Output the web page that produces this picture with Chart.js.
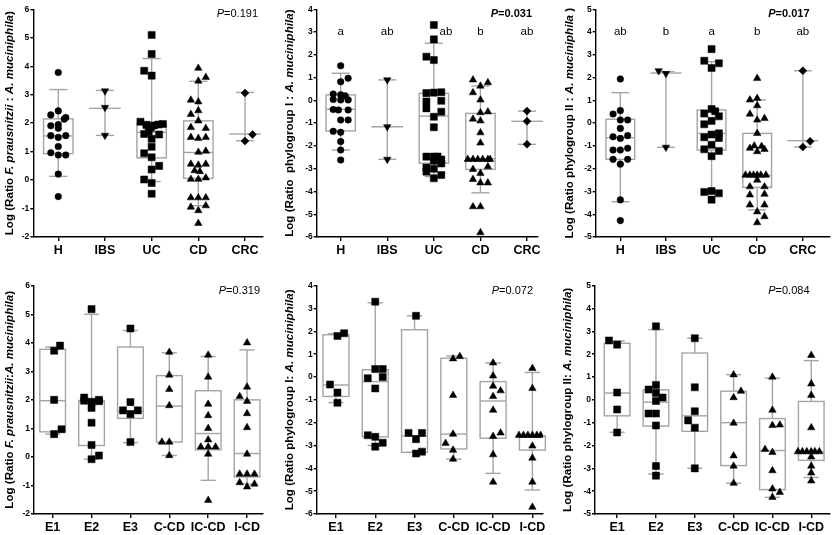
<!DOCTYPE html>
<html>
<head>
<meta charset="utf-8">
<script src="https://cdn.jsdelivr.net/npm/chart.js@4.4.0/dist/chart.umd.min.js"></script>
<style>
html, body { margin: 0; padding: 0; background: #fff; }
#wrap { position: relative; width: 835px; height: 535px; }
#wrap canvas { position: absolute; }
</style>
</head>
<body>
<div id="wrap">
  <canvas id="c1" width="278" height="265" style="left:0;top:0"></canvas>
  <canvas id="c2" width="278" height="265" style="left:278px;top:0"></canvas>
  <canvas id="c3" width="279" height="265" style="left:556px;top:0"></canvas>
  <canvas id="c4" width="278" height="270" style="left:0;top:265px"></canvas>
  <canvas id="c5" width="278" height="270" style="left:278px;top:265px"></canvas>
  <canvas id="c6" width="279" height="270" style="left:556px;top:265px"></canvas>
</div>
<script>
const FONT = 'Arial, "Liberation Sans", sans-serif';

const diseaseGroups = ['H', 'IBS', 'UC', 'CD', 'CRC'];
const cdGroups = ['E1', 'E2', 'E3', 'C-CD', 'IC-CD', 'I-CD'];
const diseaseMarkers = ['circle', 'triangleDown', 'rect', 'triangle', 'rectRot'];
const cdMarkers = ['rect', 'rect', 'rect', 'triangle', 'triangle', 'triangle'];

const pValues = ['0.191', '0.031', '0.017', '0.319', '0.072', '0.084'];
const phyloILetters = ['a', 'ab', 'ab', 'b', 'ab'];
const phyloIILetters = ['ab', 'b', 'a', 'b', 'ab'];

// y-axis titles: [text, italic]
const titleFpDisease = [['Log (Ratio ', false], ['F. prausnitzii', true], [' : ', false], ['A. muciniphila', true], [')', false]];
const titlePhyloIDisease = [['Log (Ratio  phylogroup I : ', false], ['A. muciniphila', true], [')', false]];
const titlePhyloIIDisease = [['Log (Ratio phylogroup II : ', false], ['A. muciniphila', true], [' )', false]];
const titleFpCd = [['Log (Ratio ', false], ['F. prausnitzii', true], [':', false], ['A. muciniphila', true], [')', false]];
const titlePhyloICd = [['Log (Ratio phylogroup I: ', false], ['A. muciniphila', true], [')', false]];
const titlePhyloIICd = [['Log (Ratio phylogroup II: ', false], ['A. muciniphila', true], [')', false]];

// box stats per group: [lower whisker, Q1, median, Q3, upper whisker]; null Q1/Q3 = no box drawn
const fpDiseaseBoxes = [
  [0.13, 0.93, 1.55, 2.15, 3.18], [1.57, null, 2.52, null, 3.15], [-0.05, 0.78, 1.68, 1.98, 4.27],
  [-0.9, 0.06, 0.97, 2.08, 3.47], [1.38, null, 1.62, null, 3.08]
];
const phyloIDiseaseBoxes = [
  [-2.18, -1.34, -0.39, 0.24, 1.19], [-2.59, null, -1.16, null, 0.9], [-3.35, -2.76, -0.69, 0.31, 2.51],
  [-4.06, -3.03, -2.56, -0.57, 0.63], [-1.93, null, -0.92, null, -0.47]
];
const phyloIIDiseaseBoxes = [
  [-3.45, -1.59, -0.64, 0.17, 1.34], [-1.06, null, 2.2, null, 2.26], [-3.0, -1.18, -0.45, 0.58, 2.7],
  [-3.81, -2.82, -2.28, -0.45, 1.02], [-1.05, null, -0.77, null, 2.3]
];
const fpCdBoxes = [
  [0.8, 0.88, 1.97, 3.77, 3.85], [-0.08, 0.4, 1.92, 1.98, 5.0], [0.5, 1.35, 1.6, 3.85, 4.43],
  [0.05, 0.52, 1.78, 2.85, 3.65], [-0.82, 0.25, 0.82, 2.32, 3.52], [-0.95, -0.7, 0.12, 2.0, 3.75]
];
const phyloICdBoxes = [
  [-1.12, -0.85, -0.35, 1.85, 1.9], [-3.0, -2.62, -0.2, 0.32, 3.25], [-3.3, -3.3, -2.58, 2.07, 2.68],
  [-3.6, -3.15, -2.5, 0.82, 0.92], [-4.22, -2.68, -1.05, -0.2, 0.62], [-4.95, -3.2, -2.6, -2.58, 0.2]
];
const phyloIICdBoxes = [
  [-1.42, -0.7, 0.3, 2.48, 2.58], [-3.25, -1.15, -0.1, 0.44, 3.08], [-3.0, -1.38, -0.7, 2.05, 2.7],
  [-3.65, -2.88, -1.0, 0.38, 1.1], [-4.27, -3.93, -2.22, -0.82, 0.95], [-3.4, -2.65, -2.28, -0.07, 1.72]
];

// individual samples per group: [jitter slot, value]
const fpDiseasePoints = [
  [[0, 3.78], [-1, 2.29], [0, 2.43], [1, 2.2], [0.8, 2.14], [-1, 1.91], [0, 1.95], [0, 1.82], [-1, 1.56],
   [0, 1.5], [1, 1.56], [0, 1.18], [-1, 0.96], [0, 0.88], [1, 0.88], [0, 0.21], [0, -0.58]],
  [[0, 3.13], [0, 2.55], [0, 1.57]],
  [[0, 5.1], [0, 4.43], [-1, 3.84], [0, 3.67], [-1.5, 2.05], [-0.7, 1.94], [0.3, 1.92], [0.9, 1.95], [1.5, 1.97],
   [-0.1, 1.84], [-1, 1.62], [-0.4, 1.7], [1, 1.6], [0, 1.45], [0, 1.17], [-1, 0.94], [0, 0.8], [1, 0.5],
   [0, 0.37], [-1, 0.02], [0, -0.1], [0, -0.48]],
  [[0, 3.93], [1, 3.61], [0, 3.48], [-1, 2.81], [0, 2.75], [0, 2.44], [-1, 2.31], [0, 2.08], [-1, 1.85], [1, 1.82],
   [-1, 1.5], [0, 1.47], [1, 1.5], [0, 0.98], [1, 1.02], [-1, 0.56], [0, 0.53], [1, 0.56], [-0.5, 0.33], [0.2, 0.3],
   [-1, 0.03], [0, 0.03], [1, 0.08], [-1, -0.62], [0, -0.62], [1, -0.62], [-1, -0.95], [0, -1.07], [1, -0.9], [0, -1.52]],
  [[0, 3.06], [1, 1.6], [0, 1.37]]
];
const phyloIDiseasePoints = [
  [[0, 1.52], [1, 0.97], [0, 0.82], [-1, 0.28], [0, 0.25], [0.6, 0.2], [-1, 0.04], [0, 0.02], [1, 0.02], [-1, -0.4],
   [-0.3, -0.42], [1, -0.42], [0, -0.86], [1, -0.86], [-1, -1.36], [0, -1.4], [0, -1.81], [0, -2.18], [0, -2.62]],
  [[0, 0.9], [0, -1.16], [0, -2.59]],
  [[0, 3.31], [0, 2.68], [-1, 1.92], [0, 1.77], [-1, 0.32], [0, 0.34], [1, 0.36], [-1, -0.05], [1, -0.02], [-1, -0.35],
   [1, -0.5], [0, -0.72], [0, -1.18], [-1, -2.47], [0, -2.47], [0.5, -2.47], [1, -2.6], [0, -2.65], [1, -2.77],
   [-1, -2.95], [0, -3.0], [-1, -3.13], [1, -3.28], [0, -3.42]],
  [[-1, 0.9], [1, 0.78], [0, 0.63], [-1, 0.34], [0, 0.02], [0, -0.54], [1, -0.5], [-1, -0.82], [0, -0.9], [0, -1.42],
   [0, -1.87], [-1.7, -2.59], [-1, -2.59], [-0.35, -2.59], [0.3, -2.59], [1, -2.59], [1.3, -2.59], [-1, -3.03],
   [1, -2.91], [0, -3.2], [-1, -3.47], [0, -3.62], [1, -3.62], [-1, -4.67], [0, -4.67], [0, -5.81]],
  [[0, -0.47], [0, -0.92], [0, -1.93]]
];
const phyloIIDiseasePoints = [
  [[0, 1.94], [0, 0.55], [-1, 0.4], [0, 0.14], [1, 0.14], [0, -0.23], [-1, -0.6], [0, -0.67], [1, -0.55], [-1, -1.18],
   [0, -1.18], [1, -1.1], [-1, -1.59], [1, -1.59], [0, -1.8], [0, -3.37], [0, -4.28]],
  [[-1, 2.3], [0, 2.18], [0, -1.06]],
  [[0, 3.25], [-1, 2.74], [1, 2.63], [0, 2.42], [0, 0.62], [0.5, 0.52], [-1, 0.42], [1, 0.3], [0, 0.1], [-1, -0.05],
   [1, -0.45], [0, -0.5], [-1, -0.62], [1, -0.65], [0, -0.95], [-1, -1.15], [1, -1.22], [0, -1.45], [-1, -3.02],
   [0, -2.98], [1, -3.08], [0, -3.36]],
  [[0, 1.97], [-1, 1.02], [0, 1.09], [0, 0.77], [-1, 0.4], [1, 0.21], [0, 0.14], [0, -0.45], [-1, -1.1], [-0.4, -1.0],
   [0.6, -1.02], [0, -1.25], [1, -1.15], [-1.6, -2.28], [-1, -2.28], [-0.5, -2.28], [0, -2.28], [0.5, -2.28],
   [1.2, -2.28], [0, -2.5], [-1, -2.79], [1, -2.79], [-1, -3.15], [1, -3.12], [-1, -3.59], [1, -3.59], [0, -3.89],
   [1, -4.1], [0, -4.37]],
  [[0, 2.3], [1, -0.8], [0, -1.05]]
];
const fpCdPoints = [
  [[1, 3.9], [0.2, 3.72], [0.2, 2.0], [1.2, 0.97], [0.2, 0.8]],
  [[0, 5.18], [-1, 2.08], [-1, 1.97], [0, 1.93], [1, 2.0], [1, 1.95], [0, 1.72], [0, 1.2], [0, 0.42], [1, 0.05], [0, -0.08]],
  [[0, 4.5], [0, 1.92], [-1, 1.63], [0, 1.5], [1, 1.63], [0, 0.52]],
  [[0, 3.67], [0, 2.87], [0, 2.37], [0, 1.8], [-1, 0.52], [0, 0.52], [0, 0.05]],
  [[0, 3.57], [0, 2.8], [0, 1.85], [0, 1.45], [0, 1.0], [0, 0.6], [-1, 0.35], [0, 0.35], [1, 0.35], [0, 0.1], [0, -1.52]],
  [[0, 4.0], [0, 2.45], [-1, 2.12], [0, 1.95], [0, 1.52], [0, 1.03], [0, 0.1], [-1, -0.6], [0, -0.6], [1, -0.6],
   [-1, -0.9], [0, -1.05], [1, -0.95]]
];
const phyloICdPoints = [
  [[1.1, 1.92], [0.2, 1.8], [-0.8, -0.33], [0.2, -0.68], [0.2, -1.13]],
  [[0, 3.3], [0, 0.35], [1, 0.35], [1, 0.0], [-1, -0.05], [0, -0.5], [-1, -2.55], [0, -2.62], [1, -2.88], [0, -3.05]],
  [[0.2, 2.68], [-0.8, -2.45], [1, -2.45], [0.2, -2.72], [1, -3.27], [0.2, -3.35]],
  [[0.8, 0.9], [-0.1, 0.8], [-0.1, -0.8], [-0.1, -2.5], [-1.1, -2.9], [-0.1, -3.2], [-0.1, -3.6]],
  [[0, 0.62], [0, 0.05], [0, -0.4], [1, -0.6], [0, -0.85], [0, -1.45], [1, -2.45], [0, -2.6], [0, -3.4], [0, -4.6]],
  [[0, 0.38], [0, -0.5], [-1.8, -2.55], [-1.2, -2.55], [-0.6, -2.55], [0, -2.55], [0.6, -2.55], [1.1, -2.55],
   [0, -3.02], [0, -3.55], [0, -4.6], [0, -5.7]]
];
const phyloIICdPoints = [
  [[-1.1, 2.6], [0, 2.42], [0, 0.32], [0, -0.42], [0, -1.43]],
  [[0, 3.22], [0, 0.65], [-1, 0.45], [0, 0.3], [0.9, 0.1], [0, -0.05], [-1, -0.6], [0, -0.6], [0, -1.12], [0, -2.9], [0, -3.32]],
  [[0, 2.7], [0, 0.55], [0, -0.5], [-0.9, -0.9], [0, -1.22], [0, -3.0]],
  [[0, 1.1], [1, 0.38], [0, 0.1], [0, -1.02], [0, -2.45], [0, -2.9], [0, -3.65]],
  [[0, 1.0], [0, -0.45], [0, -1.12], [1, -1.1], [-1, -2.17], [0, -2.3], [0, -3.1], [0, -3.9], [1, -4.05], [0, -4.27]],
  [[0, 1.95], [0, 0.7], [0, 0.2], [0, -1.22], [-1.8, -2.27], [-1.2, -2.27], [-0.6, -2.27], [0, -2.27], [0.5, -2.27],
   [1.1, -2.27], [0, -2.5], [0, -2.9], [0, -3.2], [0, -3.55]]
];

const markerStyle = {
  circle: { style: 'circle', radius: 3.3, rotation: 0 },
  triangleDown: { style: 'triangle', radius: 4.3, rotation: 180 },
  rect: { style: 'rect', radius: 5, rotation: 0 },
  triangle: { style: 'triangle', radius: 4.3, rotation: 0 },
  rectRot: { style: 'rectRot', radius: 4, rotation: 0 }
};

const topRow = { padTop: 9.3, xAxisH: 28, jitter: 0.16, boxW: 0.63, capW: 0.39, medW: 0.68 };
const bottomRow = { padTop: 20.7, xAxisH: 21, jitter: 0.19, boxW: 0.66, capW: 0.39, medW: 0.68 };

const panels = [
  { id: 'c1', row: topRow, groups: diseaseGroups, markers: diseaseMarkers, boxes: fpDiseaseBoxes, points: fpDiseasePoints,
    yMin: -2, yMax: 6, xMin: -0.535, xMax: 4.385, left: 33.3, padRight: 15, title: titleFpDisease, titleX: 10,
    p: pValues[0], pBold: false, pInset: 5 },
  { id: 'c2', row: topRow, groups: diseaseGroups, markers: diseaseMarkers, boxes: phyloIDiseaseBoxes, points: phyloIDiseasePoints,
    yMin: -6, yMax: 4, xMin: -0.515, xMax: 4.236, left: 38.7, padRight: 18, title: titlePhyloIDisease, titleX: 12,
    p: pValues[1], pBold: true, pInset: 6, letters: phyloILetters, letterY: 3, letterDx: [0, 0, 0.26, 0, 0] },
  { id: 'c3', row: topRow, groups: diseaseGroups, markers: diseaseMarkers, boxes: phyloIIDiseaseBoxes, points: phyloIIDiseasePoints,
    yMin: -5, yMax: 5, xMin: -0.54, xMax: 4.585, left: 39.7, padRight: 3, title: titlePhyloIIDisease, titleX: 14,
    p: pValues[2], pBold: true, pInset: 20, letters: phyloIILetters, letterY: 4, letterDx: [0, 0, 0, 0, 0] },
  { id: 'c4', row: bottomRow, groups: cdGroups, markers: cdMarkers, boxes: fpCdBoxes, points: fpCdPoints,
    yMin: -2, yMax: 6, xMin: -0.48, xMax: 5.41, left: 34, padRight: 15, title: titleFpCd, titleX: 10,
    p: pValues[3], pBold: false, pInset: 3 },
  { id: 'c5', row: bottomRow, groups: cdGroups, markers: cdMarkers, boxes: phyloICdBoxes, points: phyloICdPoints,
    yMin: -6, yMax: 4, xMin: -0.49, xMax: 5.27, left: 38.7, padRight: 13, title: titlePhyloICd, titleX: 12,
    p: pValues[4], pBold: false, pInset: 10 },
  { id: 'c6', row: bottomRow, groups: cdGroups, markers: cdMarkers, boxes: phyloIICdBoxes, points: phyloIICdPoints,
    yMin: -5, yMax: 5, xMin: -0.57, xMax: 5.47, left: 39, padRight: 5, title: titlePhyloIICd, titleX: 12,
    p: pValues[5], pBold: false, pInset: 20 }
];

// boxes, whiskers, caps and medians, drawn under the points
const boxPlot = {
  id: 'boxPlot',
  beforeDatasetsDraw(chart, args, opts) {
    const { ctx, scales: { x, y } } = chart;
    const span = u => x.getPixelForValue(u) - x.getPixelForValue(0);
    const line = (x1, y1, x2, y2) => { ctx.beginPath(); ctx.moveTo(x1, y1); ctx.lineTo(x2, y2); ctx.stroke(); };
    ctx.save();
    ctx.strokeStyle = '#a4a4a4';
    ctx.lineWidth = 1.4;
    opts.boxes.forEach((b, i) => {
      const [lo, q1, med, q3, hi] = b;
      const cx = x.getPixelForValue(i);
      const bw = span(opts.boxW) / 2, cw = span(opts.capW) / 2, mw = span(opts.medW) / 2;
      const yLo = y.getPixelForValue(lo), yHi = y.getPixelForValue(hi), yMed = y.getPixelForValue(med);
      if (q1 !== null) {
        const y1 = y.getPixelForValue(q1), y3 = y.getPixelForValue(q3);
        ctx.strokeRect(cx - bw, y3, 2 * bw, y1 - y3);
        line(cx, y3, cx, yHi);
        line(cx, y1, cx, yLo);
        line(cx - bw, yMed, cx + bw, yMed);
      } else {
        line(cx, yHi, cx, yLo);
        line(cx - mw, yMed, cx + mw, yMed);
      }
      line(cx - cw, yHi, cx + cw, yHi);
      line(cx - cw, yLo, cx + cw, yLo);
    });
    ctx.restore();
  }
};

function drawParts(ctx, parts, x, y, size, bold, align) {
  const font = it => `${it ? 'italic ' : ''}${bold ? 'bold ' : ''}${size}px ${FONT}`;
  let total = 0;
  parts.forEach(([t, it]) => { ctx.font = font(it); total += ctx.measureText(t).width; });
  let cx = align === 'right' ? x - total : x - total / 2;
  ctx.textAlign = 'left';
  ctx.textBaseline = 'middle';
  ctx.fillStyle = '#000';
  parts.forEach(([t, it]) => { ctx.font = font(it); ctx.fillText(t, cx, y); cx += ctx.measureText(t).width; });
}

// y title with italic species names, P value, group letters
const labelsPlugin = {
  id: 'labels',
  afterDraw(chart, args, opts) {
    const { ctx, chartArea, scales: { x, y } } = chart;
    ctx.save();
    ctx.translate(opts.titleX, (chartArea.top + chartArea.bottom) / 2);
    ctx.rotate(-Math.PI / 2);
    drawParts(ctx, opts.title, 0, 0, 11.6, true, 'center');
    ctx.restore();

    ctx.save();
    drawParts(ctx, [['P', true], ['=' + opts.p, false]], chartArea.right - opts.pInset, chartArea.top + 5, 11, opts.pBold, 'right');
    if (opts.letters) {
      opts.letters.forEach((l, i) => {
        drawParts(ctx, [[l, false]], x.getPixelForValue(i + opts.letterDx[i]), y.getPixelForValue(opts.letterY), 11.5, false, 'center');
      });
    }
    ctx.restore();
  }
};

panels.forEach(p => {
  const r = p.row;
  const axisGrid = len => ({ display: true, drawOnChartArea: false, drawTicks: true, tickLength: len, color: '#000', lineWidth: 1.4 });
  new Chart(document.getElementById(p.id), {
    type: 'scatter',
    data: {
      datasets: p.groups.map((g, i) => {
        const m = markerStyle[p.markers[i]];
        return {
          label: g,
          data: p.points[i].map(([slot, v]) => ({ x: i + slot * r.jitter, y: v })),
          pointStyle: m.style,
          pointRadius: m.radius,
          pointRotation: m.rotation,
          backgroundColor: '#000',
          borderColor: '#000',
          borderWidth: 0.5
        };
      })
    },
    options: {
      responsive: false,
      animation: false,
      layout: { padding: { top: r.padTop, right: p.padRight, left: 0, bottom: 0 } },
      plugins: {
        legend: { display: false },
        tooltip: { enabled: false },
        boxPlot: { boxes: p.boxes, boxW: r.boxW, capW: r.capW, medW: r.medW },
        labels: { title: p.title, titleX: p.titleX, p: p.p, pBold: p.pBold, pInset: p.pInset,
                  letters: p.letters, letterY: p.letterY, letterDx: p.letterDx }
      },
      scales: {
        x: {
          type: 'linear',
          min: p.xMin,
          max: p.xMax,
          afterBuildTicks: s => { s.ticks = p.groups.map((g, i) => ({ value: i })); },
          afterFit: s => { s.height = r.xAxisH; },
          ticks: {
            autoSkip: false,
            maxRotation: 0,
            padding: 2,
            color: '#000',
            font: { family: FONT, size: 12.5, weight: 'bold' },
            callback: v => p.groups[v]
          },
          grid: axisGrid(4),
          border: { display: true, color: '#000', width: 1.4 }
        },
        y: {
          min: p.yMin,
          max: p.yMax,
          afterFit: s => { s.width = p.left; },
          ticks: {
            stepSize: 1,
            padding: 1,
            color: '#000',
            font: { family: FONT, size: 8.5, weight: 'bold' }
          },
          grid: axisGrid(3),
          border: { display: true, color: '#000', width: 1.4 }
        }
      }
    },
    plugins: [boxPlot, labelsPlugin]
  });
});
</script>
</body>
</html>
